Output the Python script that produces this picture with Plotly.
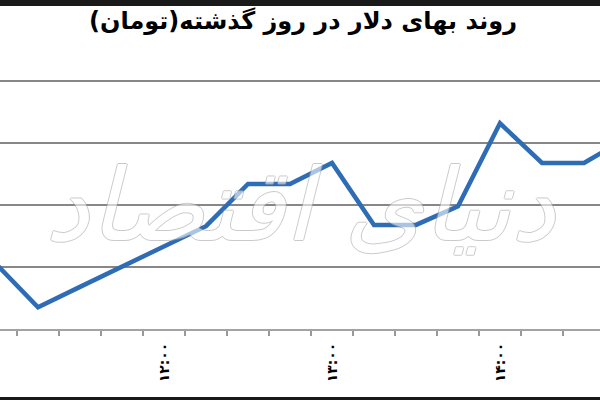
import plotly.graph_objects as go

# 15-minute intervals (category positions)
times = ["11:00", "11:15", "11:30", "11:45", "12:00", "12:15", "12:30", "12:45",
         "13:00", "13:15", "13:30", "13:45", "14:00", "14:15", "14:30", "14:45"]
prices = [3610.5, 3603.5, 3606.8, 3610.1, 3613.3, 3616.6, 3623.4, 3623.4,
          3626.8, 3616.8, 3616.8, 3619.8, 3633.2, 3626.8, 3626.8, 3630.8]

tick_idx = [0, 4, 8, 12]
tick_labels = ["۱۱:۰۰", "۱۲:۰۰", "۱۳:۰۰", "۱۴:۰۰"]
grid_vals = [3610, 3620, 3630, 3640]

title_text = "روند بهای دلار در روز گذشته(تومان)"
watermark = "دنیای اقتصاد"

x = list(range(len(times)))

fig = go.Figure()
fig.add_trace(go.Scatter(
    x=x, y=prices, mode="lines",
    line=dict(color="#2e6cb5", width=4.5),
    hoverinfo="skip", showlegend=False,
))

W, H = 600, 400
mt, mb = 75, 71
plot_h = H - mt - mb

fig.update_layout(
    width=W, height=H,
    margin=dict(l=0, r=0, t=mt, b=mb),
    paper_bgcolor="white", plot_bgcolor="white",
    title=dict(text="<b>" + title_text + "</b>", x=0.505, xanchor="center",
               y=1 - 21 / H, yanchor="middle",
               font=dict(family="DejaVu Sans", size=24, color="black")),
    xaxis=dict(
        range=[4 / 42, 604 / 42],
        tickmode="array", tickvals=tick_idx, ticktext=tick_labels,
        tickangle=-90, ticks="", ticklabelstandoff=6,
        tickfont=dict(family="DejaVu Sans", size=14, color="black", weight="bold"),
        showgrid=False, zeroline=False,
        showline=True, linecolor="#a3a3a3", linewidth=2,
        minor=dict(tick0=0.5, dtick=1, ticks="outside", ticklen=5,
                   tickcolor="#999999", tickwidth=1.5, showgrid=False),
    ),
    yaxis=dict(
        range=[3600, 3641],
        tickmode="array", tickvals=grid_vals,
        showticklabels=False, ticks="",
        showgrid=True, gridcolor="#878787", gridwidth=2,
        zeroline=False, showline=False,
    ),
)

# first (cut-off) time label at the far left edge
fig.add_annotation(
    x=tick_idx[0], xref="x", y=-(14 / plot_h), yref="paper",
    text=tick_labels[0], showarrow=False, textangle=-90,
    xanchor="center", yanchor="top",
    font=dict(family="DejaVu Sans", size=14, color="black", weight="bold"),
)

# watermark (semi-transparent, outlined)
fig.add_annotation(
    x=0.5, xref="paper", y=(329 - 205) / plot_h, yref="paper",
    text=watermark, showarrow=False, opacity=0.6,
    font=dict(family="DejaVu Sans", size=100, color="white",
              style="italic",
              shadow="1px 0 0 #a8a8a8, -1px 0 0 #a8a8a8, 0 1px 0 #a8a8a8, 0 -1px 0 #a8a8a8"),
)

# black frame lines at top and bottom of the image
for py0, py1 in ((0, 6), (397, 400)):
    fig.add_shape(type="rect", xref="paper", yref="paper", x0=-0.01, x1=1.01,
                  y0=(H - mb - py0) / plot_h, y1=(H - mb - py1) / plot_h,
                  fillcolor="#1a1a1a", line=dict(width=0), layer="above")

fig.write_html("out.html", config={"displayModeBar": False},
               post_script="document.body.style.margin='0';")
